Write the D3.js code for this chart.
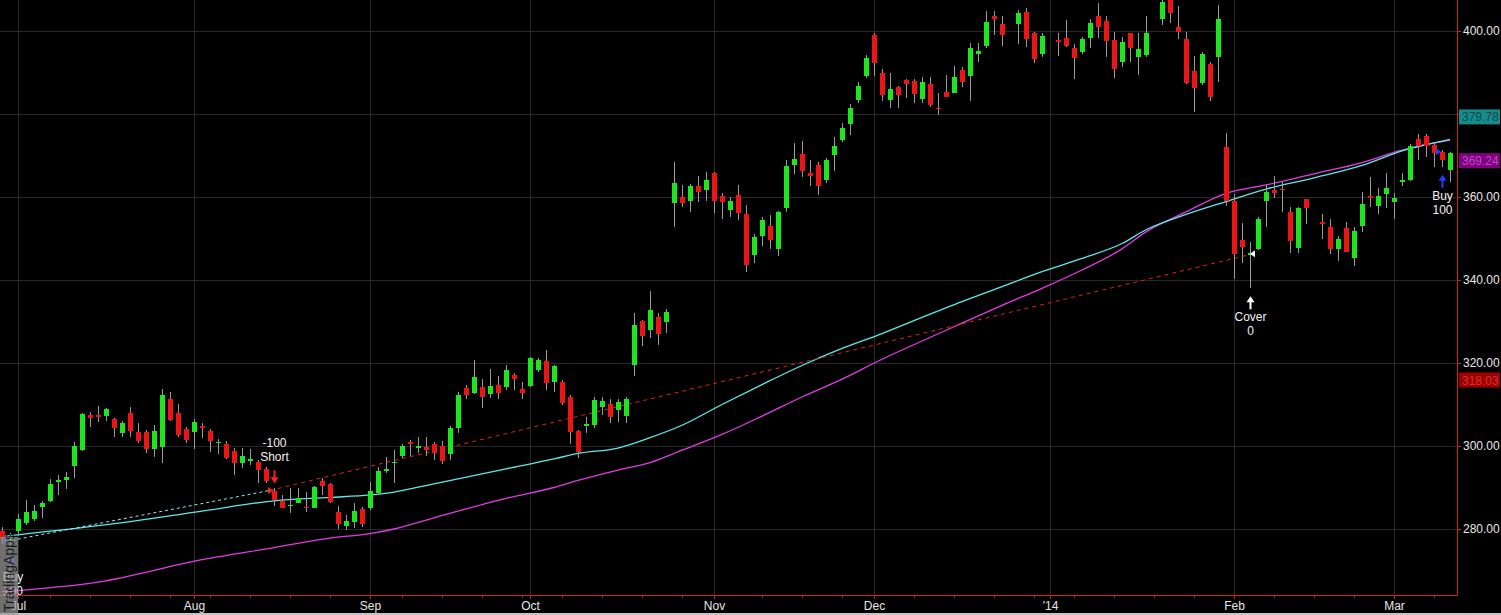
<!DOCTYPE html>
<html>
<head>
<meta charset="utf-8">
<script src="https://cdn.jsdelivr.net/npm/d3@7"></script>
<style>
  html, body { margin: 0; padding: 0; background: #000; overflow: hidden; }
  svg { display: block; }
</style>
</head>
<body>
<script>
'use strict';

// one slot per trading day, null = empty holiday slot
let opens = [
  279.5, 276.8, 279.4, 281.5, 282.4, 285.4, 286.8, 291.4, 291.8, 295.2,
  299.0, 307.5, 307.5, 307.3, 306.5, 303.2, 308.0, 303.3, 303.3, 299.3,
  299.8, 311.3, 308.0, 304.1, 303.4, 304.8, 303.7, 300.8, 300.5, 298.9,
  296.0, 296.4, 296.1, 294.5, 289.2, 286.7, 285.7, 286.3, 285.4, 285.1,
  291.6, 290.8, 284.0, 280.8, 281.8, 284.8, 285.1, 288.6, 294.0, 295.8,
  297.6, 300.9, 299.4, 299.7, 300.5, 300.1, 298.0, 304.4, 314.0, 312.7,
  314.3, 312.5, 314.7, 314.1, 317.1, 313.7, 314.5, 318.3, 320.5, 315.5,
  315.5, 311.9, 303.6, 304.9, 305.1, 309.3, 310.1, 308.7, 307.2, 319.5,
  330.1, 328.0, 331.2, 330.0, 358.6, 359.9, 359.1, 362.7, 361.7, 365.9,
  360.2, 356.9, 360.5, 355.9, 346.0, 350.6, 353.0, 347.5, 357.4, 367.7,
  370.4, 365.7, 367.7, 364.1, 370.1, 373.7, 377.6, 383.4, 389.2, 399.0,
  390.0, 383.4, 386.4, 388.2, 388.0, 383.6, 387.2, 381.5, 385.2, 385.1,
  390.6, 389.2, 394.4, 396.5, 403.6, 401.7, null, 401.7, 404.5, 399.4,
  394.5, null, 397.8, 398.2, 395.8, 395.0, 398.4, 403.6, 402.4, 397.8,
  392.5, 399.4, 393.8, 394.2, null, 402.9, 407.6, 401.0, 398.1, 390.4,
  387.5, 392.0, 393.8, 372.0, 359.1, 349.6, 346.0, 347.5, 359.1, 361.7,
  362.0, 356.3, 347.8, 359.5, null, 353.9, 352.8, 347.5, 352.6, 345.4,
  353.0, 360.2, 357.9, 360.7, 358.9, 363.8, 364.1, 374.0, 374.7, 372.5,
  370.9, 366.5
];
let highs = [
  280.6, 279.0, 283.5, 287.0, 285.8, 286.8, 292.0, 293.0, 293.8, 301.0,
  307.9, 308.1, 309.6, 309.1, 306.7, 306.0, 309.5, 305.5, 303.9, 305.1,
  313.7, 313.1, 310.1, 304.6, 306.4, 305.6, 304.0, 301.7, 301.2, 299.5,
  299.4, 299.3, 296.6, 294.9, 289.8, 288.2, 290.0, 289.8, 288.8, 290.4,
  292.2, 291.2, 285.5, 283.4, 286.2, 285.4, 291.4, 295.0, 297.4, 299.0,
  300.6, 301.4, 302.2, 302.2, 301.0, 301.3, 304.9, 312.9, 314.7, 320.7,
  316.1, 318.5, 316.9, 319.5, 317.5, 315.5, 321.4, 321.1, 323.1, 319.5,
  315.9, 312.3, 303.9, 307.1, 311.7, 311.9, 311.3, 311.3, 311.7, 332.1,
  330.4, 337.3, 332.0, 332.9, 368.5, 362.9, 363.1, 365.1, 366.1, 366.1,
  360.9, 360.1, 362.9, 358.1, 351.0, 355.3, 355.7, 356.7, 368.9, 373.1,
  373.5, 368.9, 368.5, 369.3, 374.5, 377.9, 382.4, 387.6, 394.2, 399.4,
  390.8, 389.8, 386.7, 388.4, 388.4, 388.8, 388.8, 385.0, 389.4, 391.6,
  391.4, 397.0, 397.0, 404.7, 404.8, 403.6, null, 405.1, 405.5, 399.8,
  399.4, null, 399.4, 402.7, 396.9, 398.5, 402.8, 406.7, 403.6, 399.7,
  398.5, 399.6, 399.4, 403.5, null, 408.5, 409.0, 406.0, 399.8, 394.0,
  395.0, 392.6, 406.3, 375.5, 360.7, 353.8, 349.2, 355.2, 362.9, 365.1,
  363.7, 357.5, 357.6, 359.6, null, 355.9, 354.7, 350.6, 354.0, 352.8,
  361.1, 364.7, 362.2, 365.9, 360.9, 365.7, 372.7, 375.3, 375.1, 373.1,
  371.3, 370.9
];
let lows = [
  276.5, 275.5, 278.2, 281.0, 282.0, 282.6, 286.6, 288.2, 289.6, 292.4,
  298.8, 304.6, 305.9, 306.1, 302.2, 302.2, 302.2, 300.8, 298.2, 297.3,
  296.0, 306.0, 302.1, 300.8, 299.3, 301.9, 298.6, 298.1, 296.9, 292.9,
  294.6, 295.4, 291.0, 291.2, 285.5, 285.0, 283.9, 286.2, 284.2, 285.0,
  288.2, 286.2, 280.0, 279.8, 280.3, 280.6, 284.6, 288.2, 293.4, 291.2,
  297.0, 297.7, 298.2, 297.7, 296.6, 295.6, 296.6, 303.2, 311.3, 312.5,
  309.1, 311.5, 311.3, 313.5, 313.5, 311.3, 314.1, 317.9, 313.5, 312.9,
  309.9, 300.6, 297.0, 303.1, 304.3, 307.5, 305.6, 305.9, 305.6, 316.9,
  324.2, 326.0, 324.3, 327.2, 352.8, 357.5, 356.5, 358.9, 359.1, 356.1,
  354.6, 355.1, 354.5, 342.0, 344.2, 348.2, 347.5, 345.9, 356.5, 365.5,
  364.9, 362.7, 360.5, 363.4, 366.3, 373.3, 374.9, 382.7, 388.7, 389.2,
  383.2, 381.5, 381.5, 383.9, 382.7, 382.7, 381.8, 379.8, 384.0, 385.0,
  386.4, 383.2, 392.6, 395.8, 399.0, 396.5, null, 396.8, 396.2, 392.4,
  393.8, null, 394.0, 396.2, 388.4, 394.5, 396.0, 398.4, 393.8, 388.6,
  391.4, 392.6, 389.4, 393.7, null, 401.4, 402.0, 398.0, 387.2, 380.6,
  387.0, 383.2, 387.8, 357.8, 340.2, 344.2, 338.0, 347.2, 352.7, 359.7,
  356.5, 346.6, 346.6, 353.5, null, 349.8, 346.3, 344.6, 346.7, 343.4,
  351.6, 357.5, 355.8, 357.3, 354.6, 362.7, 363.9, 368.9, 369.6, 367.3,
  367.3, 363.7
];
let closes = [
  277.9, 277.6, 282.4, 284.0, 284.3, 286.3, 290.8, 291.8, 292.5, 300.0,
  307.7, 306.8, 307.1, 308.9, 304.4, 305.6, 303.6, 301.2, 299.3, 303.6,
  312.3, 306.3, 302.7, 301.4, 305.8, 304.4, 301.2, 301.0, 297.2, 296.0,
  297.6, 296.9, 294.2, 291.6, 287.0, 285.1, 285.9, 287.4, 285.0, 290.2,
  290.4, 286.6, 281.2, 281.9, 284.3, 281.2, 289.2, 294.0, 294.4, 296.2,
  300.1, 300.7, 300.1, 299.0, 298.2, 296.4, 304.4, 312.3, 312.3, 316.7,
  311.9, 314.5, 312.7, 318.3, 316.1, 312.7, 321.1, 320.7, 315.1, 319.3,
  310.3, 303.4, 298.5, 305.3, 311.1, 310.9, 306.9, 310.7, 311.3, 329.2,
  326.5, 332.8, 327.0, 332.4, 363.4, 358.5, 362.7, 361.3, 364.1, 359.1,
  358.9, 359.0, 356.2, 343.6, 350.4, 354.5, 349.6, 356.3, 367.5, 369.1,
  366.3, 365.1, 362.7, 368.9, 372.4, 376.7, 381.5, 386.8, 393.6, 392.4,
  384.6, 386.0, 384.6, 387.2, 384.8, 387.8, 382.2, 381.3, 384.2, 388.8,
  387.8, 395.8, 395.2, 402.1, 402.9, 399.0, null, 404.3, 398.1, 393.3,
  398.8, null, 397.6, 396.4, 393.6, 398.1, 402.0, 401.0, 397.6, 390.8,
  397.3, 396.0, 395.6, 399.6, null, 407.1, 404.4, 399.8, 387.5, 386.3,
  394.5, 384.2, 402.8, 359.1, 346.3, 348.0, 346.4, 354.7, 361.3, 361.0,
  361.8, 349.5, 357.3, 357.4, null, 353.7, 347.5, 349.9, 346.8, 351.8,
  358.2, 360.0, 360.2, 362.1, 359.7, 364.0, 372.3, 372.3, 372.4, 370.7,
  368.9, 370.5
];

let monthLabels = ["Jul", "Aug", "Sep", "Oct", "Nov", "Dec", "'14", "Feb", "Mar"];
let monthSlots = [2, 24, 46, 66, 89, 109, 131, 154, 174];
let weekSlots = [6, 11, 16, 21, 26, 31, 36, 41, 50, 55, 60, 65, 70, 75, 80, 85,
  95, 100, 105, 114, 119, 124, 129, 134, 139, 144, 149, 159, 164, 169, 179];
let priceTicks = [280, 300, 320, 340, 360, 380, 400];

// moving averages
let maSlots = [0, 12, 25, 34, 41, 46, 49, 54, 63, 69, 72, 77, 81, 85, 90, 95, 100,
  105, 110, 115, 120, 125, 130, 135, 140, 143, 148, 153, 158, 164, 170, 175, 181];
let fastMA = [278.2, 280.8, 284.3, 286.8, 287.6, 288.2, 288.9, 290.9, 294.5, 296.9,
  298.2, 299.5, 302.0, 305.0, 310.0, 314.8, 319.4, 323.5, 327.1, 331.0, 334.8,
  338.4, 342.0, 345.2, 348.8, 352.1, 355.8, 358.9, 361.9, 364.6, 367.6, 371.1, 373.9];
let slowMA = [264.9, 267.2, 272.6, 275.5, 277.8, 278.9, 280.0, 282.7, 287.4, 290.0,
  291.7, 294.2, 296.0, 299.0, 302.8, 307.2, 311.8, 316.1, 320.9, 325.3, 329.6,
  333.9, 338.0, 342.4, 347.5, 351.6, 356.4, 360.9, 362.9, 365.6, 368.3, 371.3, 373.7];

let tagValues = [379.78, 369.24, 318.03];
let tagFills = ["#158c8c", "#800080", "#9e0000"];
let tagInks = ["#0b4a4a", "#b84cc2", "#d83030"];

// trades
let tradeSlots = [1, 34, 156, 180];
let tradePrices = [277.0, 289.3, 346.3, 370.9];
let tradeActions = ["Buy", "Short", "Cover", "Buy"];
let tradeQty = ["100", "-100", "0", "100"];

(function() {

  window.onload = function() {

    let width = 1501;
    let height = 615;
    let plotRight = 1457;
    let plotBottom = 595;
    let font = "'Liberation Sans', Arial, sans-serif";

    let svg = d3.select("body")
      .append("svg")
      .attr("width", width)
      .attr("height", height)
      .style("background", "#000");

    let x = d3.scaleLinear().domain([0, 181]).range([2, 1450]);
    let y = d3.scaleLinear().domain([260, 400]).range([612, 31]);

    svg.append("defs").append("clipPath")
      .attr("id", "plot")
      .append("rect")
      .attr("width", plotRight)
      .attr("height", plotBottom);

    // grid
    let grid = svg.append("g").attr("shape-rendering", "crispEdges");
    grid.selectAll("line.h")
      .data(priceTicks)
      .enter()
      .append("line")
      .attr("class", "h")
      .attr("x1", 0).attr("x2", plotRight)
      .attr("y1", d => Math.round(y(d)) + 0.5)
      .attr("y2", d => Math.round(y(d)) + 0.5)
      .attr("stroke", "#282828");
    grid.selectAll("line.v")
      .data(monthSlots)
      .enter()
      .append("line")
      .attr("class", "v")
      .attr("y1", 0).attr("y2", plotBottom)
      .attr("x1", d => Math.round(x(d)) + 0.5)
      .attr("x2", d => Math.round(x(d)) + 0.5)
      .attr("stroke", "#282828");

    let plot = svg.append("g").attr("clip-path", "url(#plot)");

    // moving averages
    let maLine = (vals) => d3.line()
      .x((d, i) => x(maSlots[i]))
      .y(d => y(d))
      .curve(d3.curveMonotoneX)(vals);
    plot.append("path")
      .attr("d", maLine(slowMA))
      .attr("fill", "none")
      .attr("stroke", "#e03ce0")
      .attr("stroke-width", 1.3);
    plot.append("path")
      .attr("d", maLine(fastMA))
      .attr("fill", "none")
      .attr("stroke", "#5fe8e8")
      .attr("stroke-width", 1.3);

    // trade lines: long leg in cyan, short leg in red
    let entryX = (i) => tradeActions[i] === "Cover" ? x(tradeSlots[i]) + 3 : x(tradeSlots[i]) - 4;
    let legs = [
      {a: 0, b: 1, color: "#8af4f4", dash: "3,3"},
      {a: 1, b: 2, color: "#dd2222", dash: "4,4"}
    ];
    plot.selectAll("line.leg")
      .data(legs)
      .enter()
      .append("line")
      .attr("class", "leg")
      .attr("x1", d => entryX(d.a))
      .attr("y1", d => y(tradePrices[d.a]))
      .attr("x2", d => entryX(d.b))
      .attr("y2", d => y(tradePrices[d.b]))
      .attr("stroke", d => d.color)
      .attr("stroke-width", 1)
      .attr("stroke-dasharray", d => d.dash);

    // candles
    let candles = d3.range(opens.length)
      .filter(i => opens[i] !== null)
      .map(i => ({i: i, o: opens[i], h: highs[i], l: lows[i], c: closes[i]}));

    let cg = plot.append("g").attr("shape-rendering", "crispEdges");
    cg.selectAll("line.wick")
      .data(candles)
      .enter()
      .append("line")
      .attr("class", "wick")
      .attr("x1", d => Math.round(x(d.i)) + 0.5)
      .attr("x2", d => Math.round(x(d.i)) + 0.5)
      .attr("y1", d => y(d.h))
      .attr("y2", d => y(d.l))
      .attr("stroke", "#9a9a9a");
    cg.selectAll("rect.body")
      .data(candles)
      .enter()
      .append("rect")
      .attr("class", "body")
      .attr("x", d => Math.round(x(d.i)) - 2)
      .attr("width", 5)
      .attr("y", d => y(Math.max(d.o, d.c)))
      .attr("height", d => Math.max(1.5, Math.abs(y(d.o) - y(d.c))))
      .attr("fill", d => d.c >= d.o ? "#1ee61e" : "#ec1414");

    // trade markers, arrows and labels
    let colors = {"Buy": "#2040ff", "Short": "#ff2020", "Cover": "#ffffff"};
    let tg = plot.append("g")
      .attr("font-family", font)
      .attr("font-size", 12)
      .attr("text-anchor", "middle");
    tradeSlots.forEach((s, i) => {
      let act = tradeActions[i];
      let cx = Math.round(x(s)) + 0.5;
      let lx = Math.max(cx, 13);
      let col = colors[act];
      let my = y(tradePrices[i]);
      let mx = entryX(i);
      let dir = act === "Cover" ? -1 : 1;
      tg.append("path")
        .attr("d", "M" + (mx - 2 * dir) + "," + (my - 3.5) + "L" + (mx + 3 * dir) + "," + my +
          "L" + (mx - 2 * dir) + "," + (my + 3.5) + "Z")
        .attr("fill", col);
      let tip, t1, t2;
      if (act === "Short") {
        tip = y(highs[s]) - 5;
        tg.append("path")
          .attr("d", "M" + (cx - 4) + "," + (tip - 6) + "L" + cx + "," + tip + "L" + (cx + 4) + "," + (tip - 6) + "Z")
          .attr("fill", col);
        tg.append("rect")
          .attr("x", cx - 1).attr("y", tip - 13).attr("width", 2).attr("height", 8)
          .attr("fill", col);
        t1 = tip - 26;
        t2 = t1 - 14;
      } else {
        tip = y(lows[s]) + 8;
        tg.append("path")
          .attr("d", "M" + (cx - 4) + "," + (tip + 6) + "L" + cx + "," + tip + "L" + (cx + 4) + "," + (tip + 6) + "Z")
          .attr("fill", col);
        tg.append("rect")
          .attr("x", cx - 1).attr("y", tip + 5).attr("width", 2).attr("height", 8)
          .attr("fill", col);
        t1 = tip + 21;
        t2 = t1 + 14;
      }
      tg.append("text")
        .attr("x", lx).attr("y", t1 + 4)
        .attr("fill", "#f2f2f2")
        .text(act);
      tg.append("text")
        .attr("x", lx).attr("y", t2 + 4)
        .attr("fill", "#f2f2f2")
        .text(tradeQty[i]);
    });

    // price tags on the right axis
    let hidden = [];
    let tags = tagValues.map((v, i) => {
      let ty = y(v) + 2;
      priceTicks.forEach((t) => {
        let d = ty - y(t);
        if (Math.abs(d) < 5) {
          hidden.push(t);
        } else if (d > 0 && d < 16) {
          ty = y(t) + 17;
        }
      });
      return {v: v, y: ty, fill: tagFills[i], ink: tagInks[i]};
    });

    // right axis
    let yAxis = d3.axisRight(y)
      .tickValues(priceTicks)
      .tickFormat(d => hidden.indexOf(d) >= 0 ? "" : d3.format(".2f")(d))
      .tickSize(4)
      .tickPadding(2);
    let ya = svg.append("g")
      .attr("transform", "translate(" + plotRight + ",0)")
      .call(yAxis);
    ya.select(".domain").remove();
    ya.selectAll(".tick line").attr("stroke", "#d02020");
    ya.selectAll(".tick text")
      .attr("fill", "#e6e6e6")
      .attr("font-family", font)
      .attr("font-size", 12);

    let tagG = svg.append("g").selectAll("g")
      .data(tags)
      .enter()
      .append("g");
    tagG.append("rect")
      .attr("x", plotRight + 2)
      .attr("y", d => d.y - 7.5)
      .attr("width", 41)
      .attr("height", 15)
      .attr("fill", d => d.fill);
    tagG.append("text")
      .attr("x", plotRight + 5)
      .attr("y", d => d.y + 4.5)
      .attr("fill", d => d.ink)
      .attr("font-family", font)
      .attr("font-size", 12)
      .text(d => d3.format(".2f")(d.v));

    // bottom axis
    let xAxis = d3.axisBottom(x)
      .tickValues(monthSlots)
      .tickFormat((d, i) => monthLabels[i])
      .tickSize(4)
      .tickPadding(2);
    let xa = svg.append("g")
      .attr("transform", "translate(0," + plotBottom + ")")
      .call(xAxis);
    xa.select(".domain").remove();
    xa.selectAll(".tick line").attr("stroke", "#d02020");
    xa.selectAll(".tick text")
      .attr("fill", "#e6e6e6")
      .attr("font-family", font)
      .attr("font-size", 12);
    svg.append("g").selectAll("line")
      .data(weekSlots)
      .enter()
      .append("line")
      .attr("x1", d => Math.round(x(d)) + 0.5)
      .attr("x2", d => Math.round(x(d)) + 0.5)
      .attr("y1", plotBottom)
      .attr("y2", plotBottom + 2.5)
      .attr("stroke", "#d02020");

    // frame lines
    svg.append("line")
      .attr("x1", 0).attr("x2", plotRight + 0.5)
      .attr("y1", plotBottom + 0.5).attr("y2", plotBottom + 0.5)
      .attr("stroke", "#d42020");
    svg.append("line")
      .attr("x1", plotRight + 0.5).attr("x2", plotRight + 0.5)
      .attr("y1", 0).attr("y2", plotBottom + 0.5)
      .attr("stroke", "#d42020");
    svg.append("rect")
      .attr("x", 0).attr("y", height - 2)
      .attr("width", width).attr("height", 2)
      .attr("fill", "#c4c4c4");

    // watermark logo
    svg.append("rect")
      .attr("x", 0).attr("y", 537)
      .attr("width", 18).attr("height", 78)
      .attr("fill", "#9a9a9a")
      .attr("opacity", 0.72);
    svg.append("text")
      .attr("transform", "translate(14,612) rotate(-90)")
      .attr("font-family", font)
      .attr("font-size", 14)
      .attr("fill", "#1c1c1c")
      .text("TradingApps");
  };
})();
</script>
</body>
</html>
